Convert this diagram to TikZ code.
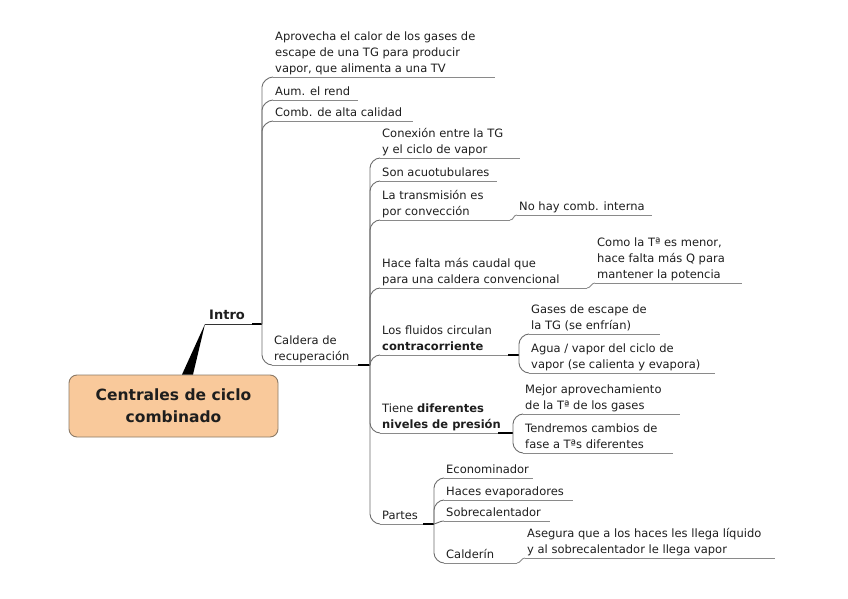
\documentclass[tikz,border=0pt]{standalone}
\usepackage{fontspec}
\setmainfont{DejaVu Sans}
\usetikzlibrary{calc}
\definecolor{txt}{HTML}{1E1E1E}
\definecolor{ln}{HTML}{6E6E6E}
\definecolor{uln}{HTML}{8A8A8A}
\definecolor{peach}{HTML}{F9C99B}
\definecolor{peachb}{HTML}{8C7A66}
\newcommand\mlines[1]{\begin{tabular}[b]{@{}l@{}}#1\end{tabular}}
\newcommand\conup[2]{\draw[conn] (#1) -- ($(#1|-#2)+(0,10)$) .. controls +(0,-5) and +(-5,0) .. (#2);}
\newcommand\condn[2]{\draw[conn] (#1) -- ($(#1|-#2)+(0,-10)$) .. controls +(0,5) and +(-5,0) .. (#2);}
\newcommand\topic[6]{% name, xL, yU, xR, text
  \coordinate (#1L) at (#2,#3);
  \coordinate (#1R) at (#4,#3);
  \node[topictext] (#1) at ($(#1L)+(2,-4.5)$) {\mlines{#5}};
  \draw[uline] (#1L) -- (#1R);
  #6}
\begin{document}
\begin{tikzpicture}[x=1pt,y=-1pt,
  topictext/.style={anchor=base west,inner sep=0pt,text=txt,font=\fontsize{11.5}{16}\selectfont},
  uline/.style={draw=uln,line width=0.9pt},
  conn/.style={draw=ln,line width=0.9pt},
  stub/.style={draw=black,line width=1.8pt},
  single/.style={draw=uln,line width=0.9pt}]
\useasboundingbox (0,0) rectangle (848,599);
\fill[white] (0,0) rectangle (848,599);

% root
\node[draw=peachb,fill=peach,rounded corners=8pt,line width=0.9pt,
  minimum width=209pt,minimum height=62pt,inner sep=0pt,align=center,text=txt,
  font=\fontsize{15.5}{22}\selectfont\bfseries] (root) at (173.5,406) {Centrales de ciclo\\combinado};

% Intro
\coordinate (introL) at (205,324);
\coordinate (introR) at (252,324);
\coordinate (introP) at (262,324);
\node[anchor=base west,inner sep=0pt,text=txt,font=\fontsize{13}{16}\selectfont\bfseries] (intro) at (209,319) {Intro};
\draw[draw=black!80,line width=0.9pt] (introL) -- (introR);
\draw[stub] (introR) -- (introP);
\fill[black] ($(root.north)+(8.5,0)$) -- ($(root.north)+(19.5,0)$) -- (introL) -- cycle;

\topic{a1}{273}{77}{495}{Aprovecha el calor de los gases de\\escape de una TG para producir\\vapor, que alimenta a una TV}{}
\topic{a2}{273}{100}{358}{Aum. el rend}{}
\topic{a3}{273}{121}{413}{Comb. de alta calidad}{}
\topic{cald}{272}{365}{358}{Caldera de\\recuperación}{}
\coordinate (caldP) at (370,365);
\draw[stub] (caldR) -- (caldP);
\conup{introP}{a1L}
\conup{introP}{a2L}
\conup{introP}{a3L}
\condn{introP}{caldL}

% Caldera children
\topic{c1}{380}{158}{520}{Conexión entre la TG\\y el ciclo de vapor}{}
\topic{c2}{380}{181}{497}{Son acuotubulares}{}
\topic{c3}{380}{220}{510}{La transmisión es\\por convección}{}
\topic{c3a}{517}{215}{652}{No hay comb. interna}{}
\topic{c4}{380}{288}{587}{Hace falta más caudal que\\para una caldera convencional}{}
\topic{c4a}{595}{283}{742}{Como la Tª es menor,\\hace falta más Q para\\mantener la potencia}{}
\topic{c5}{380}{355}{508}{Los fluidos circulan\\\textbf{contracorriente}}{}
\coordinate (c5P) at (519,355);
\draw[stub] (c5R) -- (c5P);
\topic{c5a}{529}{334}{660}{Gases de escape de\\la TG (se enfrían)}{}
\topic{c5b}{529}{373}{715}{Agua / vapor del ciclo de\\vapor (se calienta y evapora)}{}
\topic{c6}{380}{433}{498}{Tiene \textbf{diferentes}\\\textbf{niveles de presión}}{}
\coordinate (c6P) at (513,433);
\draw[stub] (c6R) -- (c6P);
\topic{c6a}{523}{414}{680}{Mejor aprovechamiento\\de la Tª de los gases}{}
\topic{c6b}{523}{453}{673}{Tendremos cambios de\\fase a Tªs diferentes}{}
\topic{c7}{380}{524}{423}{Partes}{}
\coordinate (c7P) at (434,524);
\draw[stub] (c7R) -- (c7P);
\topic{p1}{444}{478}{533}{Econominador}{}
\topic{p2}{444}{500}{573}{Haces evaporadores}{}
\topic{p3}{444}{521}{550}{Sobrecalentador}{}
\topic{p4}{444}{563}{517}{Calderín}{}
\topic{p4a}{525}{558}{775}{Asegura que a los haces les llega líquido\\y al sobrecalentador le llega vapor}{}

\conup{caldP}{c1L}
\conup{caldP}{c2L}
\conup{caldP}{c3L}
\conup{caldP}{c4L}
\conup{caldP}{c5L}
\condn{caldP}{c6L}
\condn{caldP}{c7L}

\draw[single] (c3R) .. controls +(4,0) and +(-4,0) .. (c3aL);
\draw[single] (c4R) .. controls +(4,0) and +(-4,0) .. (c4aL);
\draw[single] (p4R) .. controls +(4,0) and +(-4,0) .. (p4aL);

\conup{c5P}{c5aL}
\condn{c5P}{c5bL}
\conup{c6P}{c6aL}
\condn{c6P}{c6bL}
\conup{c7P}{p1L}
\conup{c7P}{p2L}
\draw[conn] (c7P) .. controls +(3,0) and +(-5,0) .. (p3L);
\condn{c7P}{p4L}
\end{tikzpicture}
\end{document}
